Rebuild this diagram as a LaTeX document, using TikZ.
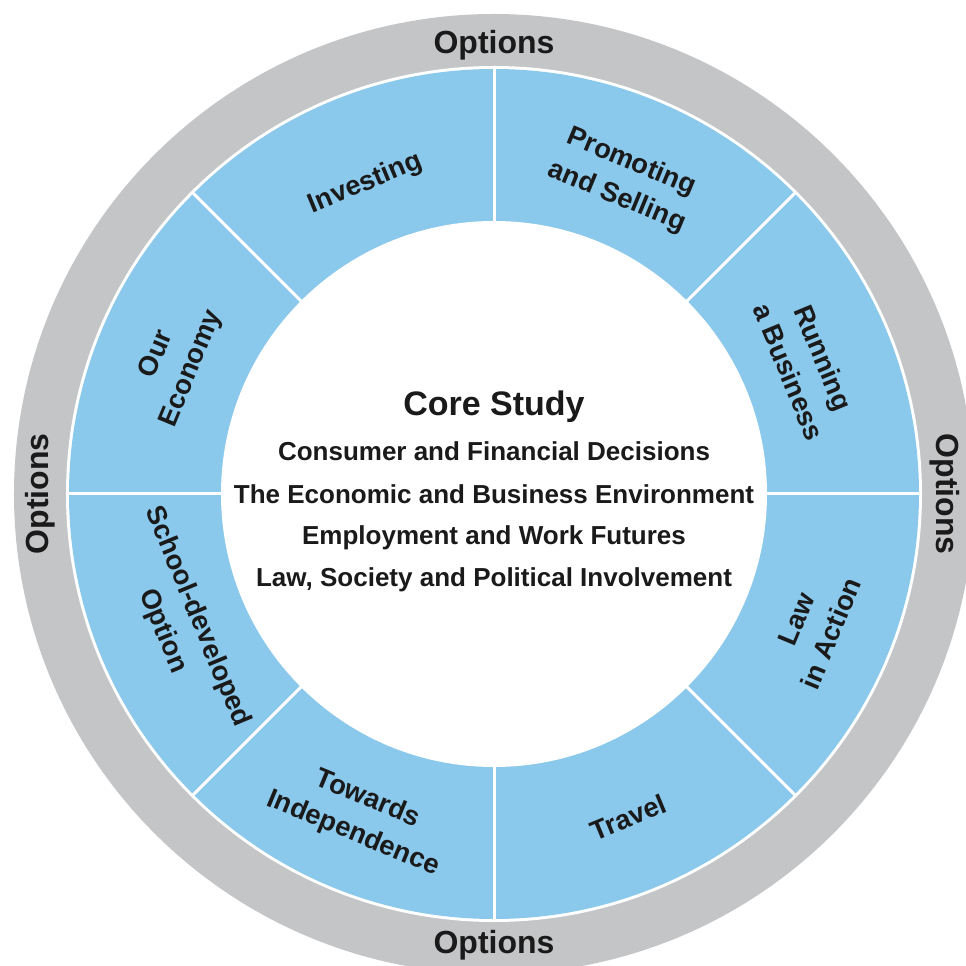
\documentclass[tikz,border=0pt]{standalone}
\usepackage{fontspec}
\setmainfont{Liberation Sans}
\definecolor{ringgray}{HTML}{C4C5C7}
\definecolor{segblue}{HTML}{8AC8EC}
\definecolor{txtcol}{HTML}{1A1A1A}
\begin{document}
\begin{tikzpicture}[x=0.75pt,y=0.75pt,
  seglabel/.style={font=\bfseries\fontsize{20.5}{28}\selectfont, text=txtcol, align=center, inner sep=0pt},
  optlabel/.style={font=\bfseries\fontsize{24}{26}\selectfont, text=txtcol, inner sep=0pt},
  coretitle/.style={font=\bfseries\fontsize{25.5}{28}\selectfont, text=txtcol, inner sep=0pt},
  coreline/.style={font=\bfseries\fontsize{19.5}{22}\selectfont, text=txtcol, inner sep=0pt},
  divider/.style={white, line width=2.25pt}]
\useasboundingbox (-494,-472) rectangle (471,494);
% rings
\fill[ringgray] (0,0) circle (480);
\fill[white] (0,0) circle (428);
\fill[segblue] (0,0) circle (425);
\fill[white] (0,0) circle (273);
\foreach \a in {0,45,...,315} \draw[divider] (\a:270) -- (\a:427);
% options
\node[optlabel] (optT) at (0,449) {Options};
\node[optlabel] (optB) at (0,-451) {Options};
\node[optlabel, rotate=90] (optL) at (-454,0) {Options};
\node[optlabel, rotate=-90] (optR) at (451,0) {Options};
% segments
\node[seglabel, rotate=22.5] (inv) at (112.5:336) {Investing};
\node[seglabel, rotate=-22.5] (pro) at (67.5:340) {Promoting\\and Selling};
\node[seglabel, rotate=-67.5] (run) at (22.5:338) {Running\\a Business};
\node[seglabel, rotate=67.5] (law) at (-22.5:346) {Law\\in Action};
\node[seglabel, rotate=22.5] (tra) at (-67.5:350) {Travel};
\node[seglabel, rotate=-22.5] (tow) at (-112.5:349) {Towards\\Independence};
\node[seglabel, rotate=-67.5] (sch) at (202.5:340) {School-developed\\Option};
\node[seglabel, rotate=67.5] (eco) at (157.5:346) {Our\\Economy};
% core
\node[coretitle] (core) at (0,87) {Core Study};
\node[coreline] (c1) at (0,43) {Consumer and Financial Decisions};
\node[coreline] (c2) at (0,0) {The Economic and Business Environment};
\node[coreline] (c3) at (0,-44) {Employment and Work Futures};
\node[coreline] (c4) at (0,-86) {Law, Society and Political Involvement};
\end{tikzpicture}
\end{document}
